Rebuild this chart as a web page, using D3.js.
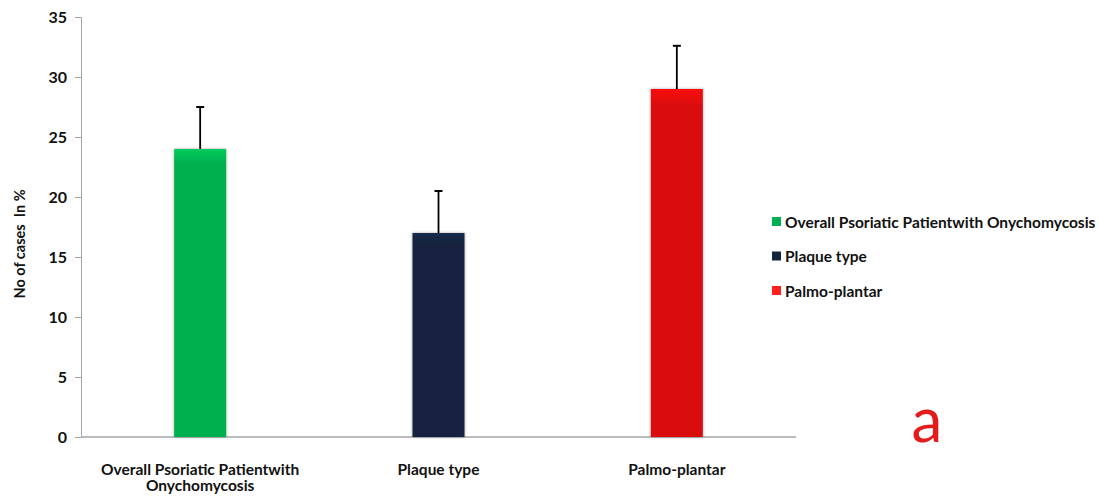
<!DOCTYPE html>
<html>
<head>
<meta charset="utf-8">
<script src="https://cdn.jsdelivr.net/npm/d3@7"></script>
<style>
  body { margin: 0; background: #fff; }
  text { font-family: Lato, "Open Sans", sans-serif; font-weight: bold; }
</style>
</head>
<body>
<div id="chart"></div>
<script>
(function(){

  // chart data
  var categories = ["Overall Psoriatic Patientwith Onychomycosis", "Plaque type", "Palmo-plantar"];
  var axisLabels = [["Overall Psoriatic Patientwith", "Onychomycosis"], ["Plaque type"], ["Palmo-plantar"]];
  var values = [24, 17, 29];
  var errors = [3.5, 3.5, 3.6];
  var colors = ["#00b050", "#14243f", "#d90d0d"];
  var legendColors = ["#00b050", "#14243f", "#ff2020"];
  var yTicks = [0, 5, 10, 15, 20, 25, 30, 35];

  var width = 1099, height = 499;
  var margin = {left: 81, top: 17, right: 303, bottom: 62};

  var svg = d3.select("#chart").append("svg")
    .attr("width", width)
    .attr("height", height);

  // soft shadow like the office chart
  var defs = svg.append("defs");
  var f = defs.append("filter").attr("id", "shadow")
    .attr("x", "-20%").attr("y", "-5%").attr("width", "140%").attr("height", "110%");
  f.append("feGaussianBlur").attr("in", "SourceAlpha").attr("stdDeviation", 1.5).attr("result", "blur");
  f.append("feFlood").attr("flood-color", "#000").attr("flood-opacity", 0.35);
  f.append("feComposite").attr("in2", "blur").attr("operator", "in").attr("result", "sh");
  var fm = f.append("feMerge");
  fm.append("feMergeNode").attr("in", "sh");
  fm.append("feMergeNode").attr("in", "SourceGraphic");

  // lighter strip at the top of each bar
  colors.forEach(function(c, i){
    var g = defs.append("linearGradient").attr("id", "grad" + i)
      .attr("x1", 0).attr("y1", 0).attr("x2", 0).attr("y2", 1)
      .attr("gradientUnits", "objectBoundingBox");
    g.append("stop").attr("offset", "0").attr("stop-color", d3.color(c).brighter(0.4));
    g.append("stop").attr("offset", "0.05").attr("stop-color", c);
    g.append("stop").attr("offset", "1").attr("stop-color", c);
  });

  var x = d3.scaleBand()
    .domain(categories)
    .range([margin.left, width - margin.right])
    .paddingInner(0).paddingOuter(0);

  var y = d3.scaleLinear()
    .domain([0, 35])
    .range([height - margin.bottom, margin.top]);

  var barW = 52;

  // y axis
  var yAxis = svg.append("g")
    .attr("transform", "translate(" + margin.left + ",0)")
    .call(d3.axisLeft(y).tickValues(yTicks).tickSize(6).tickPadding(8));
  yAxis.select(".domain").attr("stroke", "#a6a6a6");
  yAxis.selectAll(".tick line").attr("stroke", "#a6a6a6");
  yAxis.selectAll(".tick text")
    .attr("fill", "#111")
    .style("font-size", "16px");

  // x axis line
  svg.append("line")
    .attr("x1", margin.left).attr("x2", width - margin.right)
    .attr("y1", y(0)).attr("y2", y(0))
    .attr("stroke", "#a6a6a6").attr("stroke-width", 1.5);

  // bars
  svg.selectAll(".bar")
    .data(categories)
    .enter()
    .append("rect")
    .attr("class", "bar")
    .attr("x", function(d){ return x(d) + x.bandwidth() / 2 - barW / 2; })
    .attr("y", function(d, i){ return y(values[i]); })
    .attr("width", barW)
    .attr("height", function(d, i){ return y(0) - y(values[i]); })
    .attr("fill", function(d, i){ return "url(#grad" + i + ")"; })
    .attr("filter", "url(#shadow)");

  // error bars
  var eb = svg.selectAll(".err")
    .data(categories)
    .enter()
    .append("g")
    .attr("class", "err");
  eb.append("line")
    .attr("x1", function(d){ return x(d) + x.bandwidth() / 2; })
    .attr("x2", function(d){ return x(d) + x.bandwidth() / 2; })
    .attr("y1", function(d, i){ return y(values[i]); })
    .attr("y2", function(d, i){ return y(values[i] + errors[i]); })
    .attr("stroke", "#000").attr("stroke-width", 1.8);
  eb.append("line")
    .attr("x1", function(d){ return x(d) + x.bandwidth() / 2 - 4; })
    .attr("x2", function(d){ return x(d) + x.bandwidth() / 2 + 4; })
    .attr("y1", function(d, i){ return y(values[i] + errors[i]); })
    .attr("y2", function(d, i){ return y(values[i] + errors[i]); })
    .attr("stroke", "#000").attr("stroke-width", 2);

  // category labels
  svg.selectAll(".xlab")
    .data(categories)
    .enter()
    .append("text")
    .attr("class", "xlab")
    .attr("text-anchor", "middle")
    .attr("fill", "#111")
    .style("font-size", "15.5px")
    .each(function(d, i){
      var t = d3.select(this);
      axisLabels[i].forEach(function(line, j){
        t.append("tspan")
          .attr("x", x(d) + x.bandwidth() / 2)
          .attr("y", 475 + j * 16)
          .text(line);
      });
    });

  // y axis title
  svg.append("text")
    .attr("transform", "translate(25," + 244 + ") rotate(-90)")
    .attr("text-anchor", "middle")
    .attr("fill", "#111")
    .style("font-size", "14.5px")
    .style("white-space", "pre")
    .text("No of cases  In %");

  // legend
  var legend = svg.selectAll(".legend")
    .data(categories)
    .enter()
    .append("g")
    .attr("class", "legend")
    .attr("transform", function(d, i){ return "translate(772," + (222 + i * 34.5) + ")"; });
  legend.append("rect")
    .attr("x", 0).attr("y", -5)
    .attr("width", 9).attr("height", 9)
    .attr("fill", function(d, i){ return legendColors[i]; });
  legend.append("text")
    .attr("x", 13).attr("y", 5.5)
    .attr("fill", "#111")
    .style("font-size", "15.5px")
    .text(function(d){ return d; });

  // panel letter
  svg.append("text")
    .attr("x", 927).attr("y", 442)
    .attr("text-anchor", "middle")
    .attr("fill", "#e31b1b")
    .style("font-size", "62px")
    .style("font-weight", "normal")
    .text("a");

})();
</script>
</body>
</html>
